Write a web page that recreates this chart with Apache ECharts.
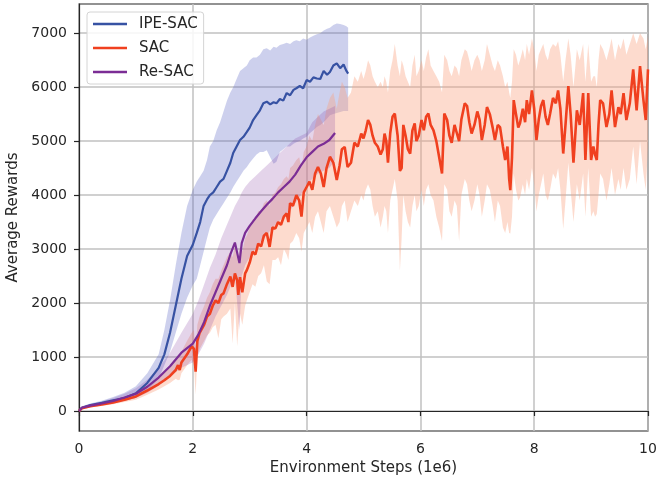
<!DOCTYPE html>
<html>
<head>
<meta charset="utf-8">
<script src="https://cdn.jsdelivr.net/npm/echarts@6/dist/echarts.min.js"></script>
<style>html,body{margin:0;padding:0;background:#fff}#c{width:657px;height:478px}</style>
</head>
<body>
<div id="c"></div>
<script>
const legendNames = ['IPE-SAC', 'SAC', 'Re-SAC'];
const xTicks = [0, 2, 4, 6, 8, 10];
const yTicks = [0, 1000, 2000, 3000, 4000, 5000, 6000, 7000];

// IPE-SAC
const ipeX = [0,0.05,0.2,0.4,0.6,0.8,1.0,1.2,1.4,1.5,1.6,1.7,1.8,1.9,2.0,2.07,2.13,2.19,2.25,2.3,2.36,2.42,2.48,2.54,2.6,2.66,2.71,2.77,2.83,2.89,2.95,3.0,3.06,3.12,3.18,3.24,3.3,3.36,3.42,3.47,3.53,3.59,3.65,3.71,3.77,3.82,3.88,3.94,4.0,4.06,4.12,4.18,4.24,4.3,4.36,4.41,4.47,4.53,4.59,4.65,4.7,4.73];
const ipeMean = [0,60,110,150,200,240,330,520,800,1050,1450,1950,2450,2870,3080,3300,3500,3800,3920,4000,4050,4150,4250,4300,4450,4600,4780,4900,5020,5080,5170,5250,5390,5480,5570,5700,5730,5680,5720,5700,5780,5750,5890,5850,5950,5980,6020,5980,6130,6100,6180,6160,6150,6300,6230,6280,6400,6440,6350,6420,6300,6250];
const ipeLow = [-10,40,80,110,150,190,240,370,600,850,1100,1450,1800,2100,2330,2450,2700,2950,3200,3400,3550,3650,3750,3850,3950,4050,4150,4250,4350,4450,4520,4600,4680,4750,4800,4800,4830,4700,4580,4620,4800,4850,4900,4900,4950,4980,5000,5050,5080,5150,5200,5260,5300,5350,5420,5480,5500,5520,5540,5560,5560,5560];
const ipeHigh = [10,90,140,190,260,340,460,700,1050,1500,2050,2700,3300,3800,4100,4250,4350,4450,4650,4900,5000,5200,5350,5550,5750,5900,6000,6150,6300,6350,6400,6500,6550,6550,6600,6700,6720,6680,6750,6730,6780,6800,6820,6800,6850,6870,6850,6900,6880,6920,6950,6980,7000,7050,7080,7100,7150,7180,7170,7150,7130,7100];

// SAC
const sacX = [0,0.05,0.2,0.4,0.6,0.8,1.0,1.2,1.4,1.5,1.6,1.7,1.74,1.77,1.8,1.9,1.98,2.02,2.05,2.08,2.12,2.2,2.25,2.3,2.35,2.4,2.45,2.5,2.54,2.6,2.66,2.7,2.74,2.78,2.8,2.83,2.87,2.92,2.95,3.0,3.05,3.1,3.15,3.2,3.25,3.3,3.35,3.4,3.45,3.5,3.55,3.6,3.65,3.68,3.71,3.76,3.82,3.87,3.91,3.95,4.0,4.05,4.1,4.15,4.2,4.25,4.3,4.35,4.41,4.47,4.53,4.58,4.62,4.67,4.72,4.78,4.84,4.9,4.96,5.0,5.04,5.08,5.12,5.16,5.2,5.25,5.3,5.34,5.37,5.4,5.43,5.47,5.51,5.55,5.6,5.64,5.67,5.7,5.74,5.78,5.82,5.86,5.9,5.93,5.97,6.02,6.06,6.1,6.14,6.18,6.23,6.28,6.33,6.38,6.42,6.47,6.51,6.55,6.6,6.64,6.68,6.72,6.78,6.82,6.86,6.9,6.95,7.0,7.04,7.08,7.13,7.17,7.22,7.27,7.31,7.36,7.4,7.45,7.49,7.53,7.56,7.58,7.61,7.64,7.68,7.72,7.75,7.8,7.84,7.87,7.91,7.96,8.0,8.04,8.08,8.12,8.16,8.2,8.24,8.28,8.33,8.38,8.42,8.46,8.51,8.55,8.6,8.64,8.69,8.75,8.8,8.86,8.9,8.95,9.0,9.04,9.07,9.1,9.13,9.16,9.21,9.27,9.32,9.36,9.42,9.48,9.52,9.57,9.62,9.68,9.74,9.8,9.86,9.92,9.96,10.0];
const sacMean = [0,50,90,120,160,210,270,380,500,570,650,760,850,760,900,1050,1200,1150,730,1300,1450,1600,1750,1800,1950,2050,2000,2150,2180,2350,2490,2300,2550,2420,2150,2480,2200,2550,2610,2750,2950,2900,3100,3050,3250,3300,3040,3400,3380,3500,3450,3600,3660,3500,3850,3800,4000,3900,3600,4050,4150,4250,4100,4400,4520,4400,4150,4500,4710,4600,4280,4550,4850,4890,4520,4600,4970,4900,5140,5050,5200,5390,5300,5100,4970,4900,4750,4850,5140,5000,4600,5150,5450,5510,5100,4450,4500,5300,5100,4850,4770,5200,5330,5000,5100,5390,5200,5450,5510,5300,5200,5000,4700,4400,5510,5390,5100,4970,5300,5150,5000,5400,5700,5650,5350,5140,5300,5550,5400,5020,5300,5630,5500,5250,5020,5300,5260,4900,4650,4900,4300,4090,4700,5760,5500,5250,5330,5600,5350,5760,5500,5940,5600,5020,5400,5650,5760,5450,5300,5510,5800,5700,5940,5600,4770,5300,6020,5500,4600,5570,5300,5890,4650,5890,4650,4900,4750,4650,5300,5760,5700,5260,5500,5940,5260,5630,5500,5890,5390,5700,6330,5570,6390,5760,5390,6330];
const sacLow = [-20,30,70,95,125,165,210,300,400,460,520,600,570,580,700,850,950,850,300,1000,1150,1300,1400,1450,1550,1600,1350,1700,1750,1800,1900,1250,2000,1200,1500,1800,1600,1950,2050,2200,2350,2300,2500,2550,2700,2400,2350,2800,2800,2850,2700,3000,2900,2800,3100,3150,3300,3200,2950,3300,3400,3500,3300,3600,3700,3500,3300,3700,3800,3600,3400,3500,3800,3900,3500,3700,3900,3800,4000,3900,4100,4200,4100,3800,3600,3700,3400,3600,3800,3700,3300,3900,4100,4300,3900,2600,3200,4000,3700,3500,3400,3800,4000,3700,3800,4100,3800,4100,4200,4000,3900,3600,3400,3150,4200,4100,3700,3600,3900,3800,3150,4000,4300,4200,3900,3700,3900,4200,4000,3600,3900,4200,4100,3800,3500,3900,3800,3400,3300,3500,3300,3290,3600,4400,4100,3900,3950,4200,4000,4300,4100,4500,4200,3700,4000,4200,4400,4000,3900,4100,4400,4300,4500,4100,3370,3900,4600,4100,3500,4200,3900,4400,3600,4500,3600,3700,3600,3650,4000,4400,4300,3900,4200,4500,4000,4300,4100,4500,4100,4300,4900,4200,5000,4400,4100,4900];
const sacHigh = [20,70,115,150,200,260,340,470,620,720,820,950,1000,1050,1100,1300,1450,1500,1100,1600,1750,1950,2100,2200,2350,2450,2450,2600,2700,2850,2950,2850,3050,3000,2850,3050,2950,3200,3250,3400,3550,3550,3700,3700,3850,3900,3800,4000,4050,4150,4200,4300,4350,4300,4500,4550,4650,4700,4500,4800,4900,5100,5000,5300,5500,5400,5300,5600,5800,5900,5600,5900,6100,6000,5800,5900,6200,6100,6300,6150,6300,6500,6400,6200,6100,6000,6100,6000,6200,6100,5900,6300,6500,6800,6400,6200,6500,6400,6200,6100,6000,6400,6600,6200,6300,6500,6300,6550,6700,6400,6300,6200,6100,5900,6600,6500,6300,6200,6400,6350,6200,6500,6700,6660,6500,6300,6500,6600,6500,6300,6500,6800,6600,6400,6300,6500,6400,6200,6000,6100,5900,5800,6100,6700,6600,6400,6500,6700,6500,6800,6600,6900,6700,6300,6600,6700,6800,6600,6500,6700,6800,6750,6850,6600,6100,6500,6900,6600,6000,6700,6500,6800,6100,6800,6100,6200,6200,6000,6500,6800,6700,6500,6700,6900,6500,6800,6700,6900,6600,6800,7000,6800,7000,6900,6700,6950];

// Re-SAC
const reX = [0,0.05,0.2,0.4,0.6,0.8,1.0,1.2,1.4,1.6,1.8,2.0,2.1,2.2,2.3,2.4,2.5,2.6,2.66,2.74,2.82,2.86,2.92,3.0,3.1,3.2,3.3,3.4,3.5,3.6,3.7,3.8,3.9,4.0,4.1,4.2,4.3,4.4,4.5];
const reMean = [0,60,100,140,185,250,320,450,620,830,1080,1250,1420,1650,1950,2200,2450,2700,2900,3120,2740,3110,3300,3430,3570,3700,3820,3930,4050,4150,4250,4380,4550,4700,4800,4900,4950,5020,5150];
const reLow = [-10,40,80,110,140,190,240,340,470,640,800,900,1050,1250,1500,1750,1950,2150,2300,2500,1500,2500,2700,2850,3000,3150,3250,3400,3500,3600,3700,3850,4000,4200,4300,4400,4450,4500,4650];
const reHigh = [10,80,125,175,240,320,420,580,800,1080,1450,1800,2050,2350,2650,2900,3200,3450,3600,3800,3950,4050,4150,4250,4350,4450,4550,4650,4750,4850,4950,5050,5100,5150,5350,5450,5550,5600,5650];

const FONT = 'DejaVu Sans';
const TXT = '#262626';

function pairs(xs, ys) { return xs.map((x, i) => [x, ys[i]]); }

function bandSeries(name, xs, lo, hi, fill) {
  return {
    type: 'custom', name: name, silent: true, z: 1,
    data: xs.map((x, i) => [x, lo[i], hi[i]]),
    encode: { x: 0, y: [1, 2] },
    renderItem: function (params, api) {
      if (params.dataIndex !== 0) return null;
      const pts = [];
      for (let i = 0; i < xs.length; i++) pts.push(api.coord([xs[i], hi[i]]));
      for (let i = xs.length - 1; i >= 0; i--) pts.push(api.coord([xs[i], lo[i]]));
      return { type: 'polygon', shape: { points: pts }, style: { fill: fill } };
    }
  };
}

function lineSeries(name, xs, ys, color, w) {
  return {
    type: 'line', name: name, data: pairs(xs, ys), showSymbol: false, symbol: 'none',
    lineStyle: { color: color, width: w }, itemStyle: { color: color }, z: 3, silent: true
  };
}

const chart = echarts.init(document.getElementById('c'), null, { renderer: 'canvas' });
chart.setOption({
  animation: false,
  backgroundColor: '#fff',
  grid: { left: 79, right: 9, top: 4, bottom: 47, containLabel: false, outerBoundsMode: 'none',
          show: true, borderColor: TXT, borderWidth: 1.2, backgroundColor: 'transparent' },
  legend: {
    data: legendNames, left: 87, top: 12, orient: 'vertical', icon: 'rect',
    itemWidth: 34, itemHeight: 2.5, itemGap: 8,
    padding: [4, 6, 4, 6],
    backgroundColor: 'rgba(255,255,255,0.85)', borderColor: '#d4d4d4', borderWidth: 1, borderRadius: 3,
    textStyle: { fontFamily: FONT, fontSize: 15, color: TXT, lineHeight: 16, padding: [0, 0, 0, 7] }
  },
  xAxis: {
    type: 'value', min: 0, max: 10,
    name: 'Environment Steps (1e6)', nameLocation: 'middle', nameGap: 30,
    nameTextStyle: { fontFamily: FONT, fontSize: 15, color: TXT },
    axisLine: { show: true, lineStyle: { color: TXT, width: 1.2 } },
    axisTick: { show: true, inside: false, length: 5, lineStyle: { color: TXT, width: 1.2 }, customValues: xTicks },
    axisLabel: { fontFamily: FONT, fontSize: 14, color: TXT, margin: 11, customValues: xTicks, formatter: v => String(v) },
    splitLine: { show: true, lineStyle: { color: '#c0c0c0', width: 1.5 } }
  },
  yAxis: {
    type: 'value', min: -370, max: 7540,
    name: 'Average Rewards', nameLocation: 'middle', nameGap: 57,
    nameTextStyle: { fontFamily: FONT, fontSize: 15, color: TXT },
    axisLine: { show: true, lineStyle: { color: TXT, width: 1.2 } },
    axisTick: { show: true, inside: false, length: 5, lineStyle: { color: TXT, width: 1.2 }, customValues: yTicks },
    axisLabel: { fontFamily: FONT, fontSize: 14, color: TXT, margin: 12, customValues: yTicks, formatter: v => String(v) },
    splitLine: { show: true, lineStyle: { color: '#c0c0c0', width: 1.5 } }
  },
  series: [
    bandSeries('IPE-SAC band', ipeX, ipeLow, ipeHigh, 'rgba(90,100,195,0.3)'),
    bandSeries('SAC band', sacX, sacLow, sacHigh, 'rgba(250,160,125,0.38)'),
    bandSeries('Re-SAC band', reX, reLow, reHigh, 'rgba(130,60,160,0.22)'),
    lineSeries('IPE-SAC', ipeX, ipeMean, '#3752a3', 2.2),
    lineSeries('SAC', sacX, sacMean, '#f0401f', 2.6),
    lineSeries('Re-SAC', reX, reMean, '#7b2d95', 2.2)
  ]
});
</script>
</body>
</html>
